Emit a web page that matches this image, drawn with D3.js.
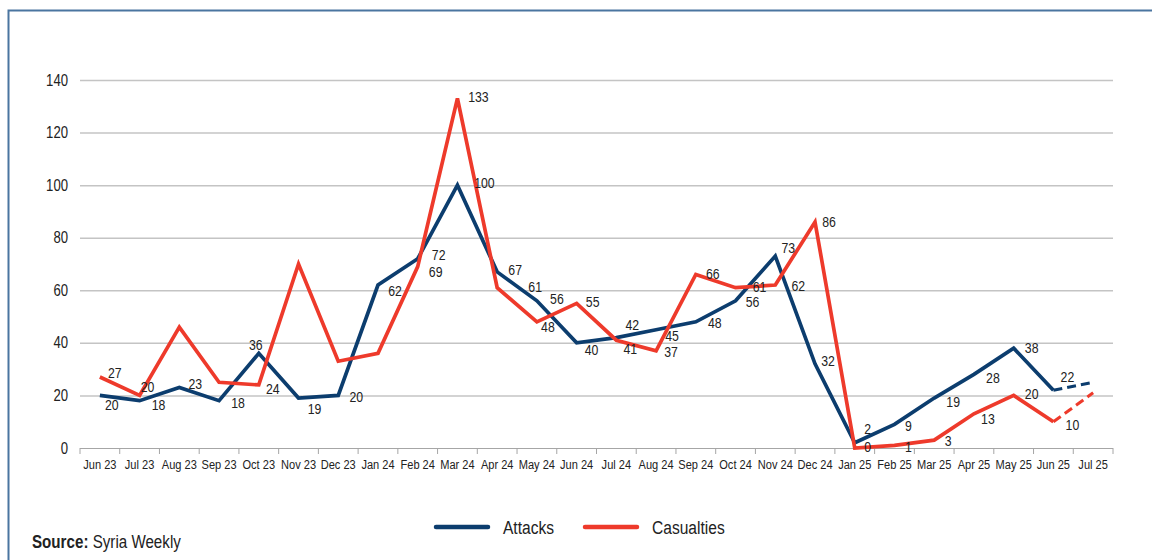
<!DOCTYPE html>
<html>
<head>
<meta charset="utf-8">
<script src="https://cdn.jsdelivr.net/npm/d3@7"></script>
<style>
  html, body { margin: 0; padding: 0; background: #fff; }
  svg { display: block; font-family: "Liberation Sans", Arial, sans-serif; }
</style>
</head>
<body>
<svg id="chart" width="1152" height="560"></svg>
<script>
// Chart data
const months = ['Jun 23', 'Jul 23', 'Aug 23', 'Sep 23', 'Oct 23', 'Nov 23', 'Dec 23', 'Jan 24', 'Feb 24',
  'Mar 24', 'Apr 24', 'May 24', 'Jun 24', 'Jul 24', 'Aug 24', 'Sep 24', 'Oct 24', 'Nov 24', 'Dec 24',
  'Jan 25', 'Feb 25', 'Mar 25', 'Apr 25', 'May 25', 'Jun 25', 'Jul 25'];
const attacks = [20, 18, 23, 18, 36, 19, 20, 62, 72, 100, 67, 56, 40, 42, 45, 48, 56, 73, 32, 2, 9, 19, 28, 38, 22, 25];
const casualties = [27, 20, 46, 25, 24, 70, 33, 36, 69, 133, 61, 48, 55, 41, 37, 66, 61, 62, 86, 0, 1, 3, 13, 20, 10, 21];
const yTicks = [0, 20, 40, 60, 80, 100, 120, 140];

// months with no value label on the chart
const attacksNoLabel = [25];
const casualtiesNoLabel = [2, 3, 5, 6, 7, 25];
// last month is a partial / projected one, drawn dashed
const dashedFrom = 24;

// label offsets from the point (center of text), tuned by eye
const attacksLabelOff = [[12, 9], [19, 4], [16, -4], [19, 2], [-3, -9], [16, 11], [18, 1], [17, 6], [21, -4],
  [27, -2], [18, -2], [20, -2], [15, 7], [16, -13], [16, 6], [19, 1], [17, 1], [13, -8], [13, -3],
  [13, -14], [14, 1], [19, 4], [19, 3], [18, 0], [14, -13], [0, 0]];
const casualtiesLabelOff = [[15, -4], [8, -9], [0, 0], [0, 0], [14, 4], [0, 0], [0, 0], [0, 0], [18, 5],
  [21, -2], [38, -1], [11, 5], [16, -2], [14, 9], [15, 1], [17, -1], [24, -1], [23, 1], [14, 0],
  [13, -1], [14, 1], [14, 1], [14, 5], [18, -2], [19, 3], [0, 0]];

const blue = '#0c3d6e';
const red = '#ee3a2b';
const squeeze = 0.82; // condensed look for the text

const svg = d3.select('#chart');
const plotLeft = 80, plotRight = 1113, plotTop = 80, plotBottom = 448;

const x = d3.scaleBand().domain(months).range([plotLeft, plotRight]);
const y = d3.scaleLinear().domain([0, 140]).range([plotBottom, plotTop]);
const cx = i => x(months[i]) + x.bandwidth() / 2;

// frame (left + top border)
svg.append('path')
  .attr('d', 'M8.5,560 V10.5 H1152')
  .attr('fill', 'none')
  .attr('stroke', '#4a75a0')
  .attr('stroke-width', 2);

// gridlines + y labels
const yAxis = svg.append('g')
  .attr('transform', `translate(${plotLeft},0)`)
  .call(d3.axisLeft(y).tickValues(yTicks).tickSize(-(plotRight - plotLeft)).tickPadding(12));
yAxis.select('.domain').remove();
yAxis.selectAll('.tick line')
  .attr('stroke', d => d === 0 ? '#a6a6a6' : '#c4c4c4')
  .attr('stroke-width', d => d === 0 ? 1 : 1.5);
yAxis.selectAll('.tick text')
  .attr('fill', '#222')
  .style('font-size', '16px')
  .style('font-family', 'inherit');

// x axis: tick marks on category boundaries, labels centred
const xg = svg.append('g').attr('transform', `translate(0,${plotBottom})`);
const bounds = months.map(m => x(m)).concat([plotRight]);
xg.selectAll('line.tk')
  .data(bounds)
  .enter()
  .append('line')
  .attr('class', 'tk')
  .attr('x1', d => d).attr('x2', d => d)
  .attr('y1', 0).attr('y2', 6)
  .attr('stroke', '#a6a6a6');
xg.selectAll('text')
  .data(months)
  .enter()
  .append('text')
  .attr('x', (d, i) => cx(i))
  .attr('y', 21)
  .attr('text-anchor', 'middle')
  .attr('fill', '#222')
  .style('font-size', '13.5px')
  .text(d => d);

// series lines
function drawSeries(values, color) {
  const line = d3.line().x((d, i) => cx(i)).y(d => y(d));
  const solid = values.slice(0, dashedFrom + 1);
  svg.append('path')
    .datum(solid)
    .attr('d', line)
    .attr('fill', 'none')
    .attr('stroke', color)
    .attr('stroke-width', 3.7)
    .attr('stroke-linejoin', 'miter');
  const dashLine = d3.line().x(d => cx(d.i)).y(d => y(d.v));
  const dashed = values.slice(dashedFrom).map((v, k) => ({ i: dashedFrom + k, v }));
  svg.append('path')
    .datum(dashed)
    .attr('d', dashLine)
    .attr('fill', 'none')
    .attr('stroke', color)
    .attr('stroke-width', 3)
    .attr('stroke-dasharray', '9,5');
}
drawSeries(attacks, blue);
drawSeries(casualties, red);

// value labels
function drawLabels(values, skip, offs) {
  svg.append('g')
    .selectAll('text')
    .data(values.map((v, i) => ({ v, i })).filter(d => !skip.includes(d.i)))
    .enter()
    .append('text')
    .attr('x', d => cx(d.i) + offs[d.i][0])
    .attr('y', d => y(d.v) + offs[d.i][1])
    .attr('dy', '0.35em')
    .attr('text-anchor', 'middle')
    .attr('fill', '#222')
    .style('font-size', '15px')
    .text(d => d.v);
}
drawLabels(attacks, attacksNoLabel, attacksLabelOff);
drawLabels(casualties, casualtiesNoLabel, casualtiesLabelOff);

// legend
const legend = svg.append('g').attr('transform', 'translate(0,527)');
const items = [{ name: 'Attacks', color: blue, x: 436 }, { name: 'Casualties', color: red, x: 585 }];
items.forEach(it => {
  legend.append('line')
    .attr('x1', it.x).attr('x2', it.x + 52)
    .attr('stroke', it.color)
    .attr('stroke-width', 4.5)
    .attr('stroke-linecap', 'round');
  legend.append('text')
    .attr('x', it.x + 67)
    .attr('dy', '0.35em')
    .attr('fill', '#222')
    .style('font-size', '19px')
    .text(it.name);
});

// source note
const src = svg.append('text')
  .attr('x', 32)
  .attr('y', 548)
  .attr('fill', '#222')
  .style('font-size', '18.5px');
src.append('tspan').attr('font-weight', 'bold').text('Source:');
src.append('tspan').text(' Syria Weekly');

// squeeze every text horizontally around its own x anchor
svg.selectAll('text').each(function () {
  const ax = +this.getAttribute('x') || 0;
  d3.select(this).attr('transform', `translate(${ax},0) scale(${squeeze},1) translate(${-ax},0)`);
});
</script>
</body>
</html>
